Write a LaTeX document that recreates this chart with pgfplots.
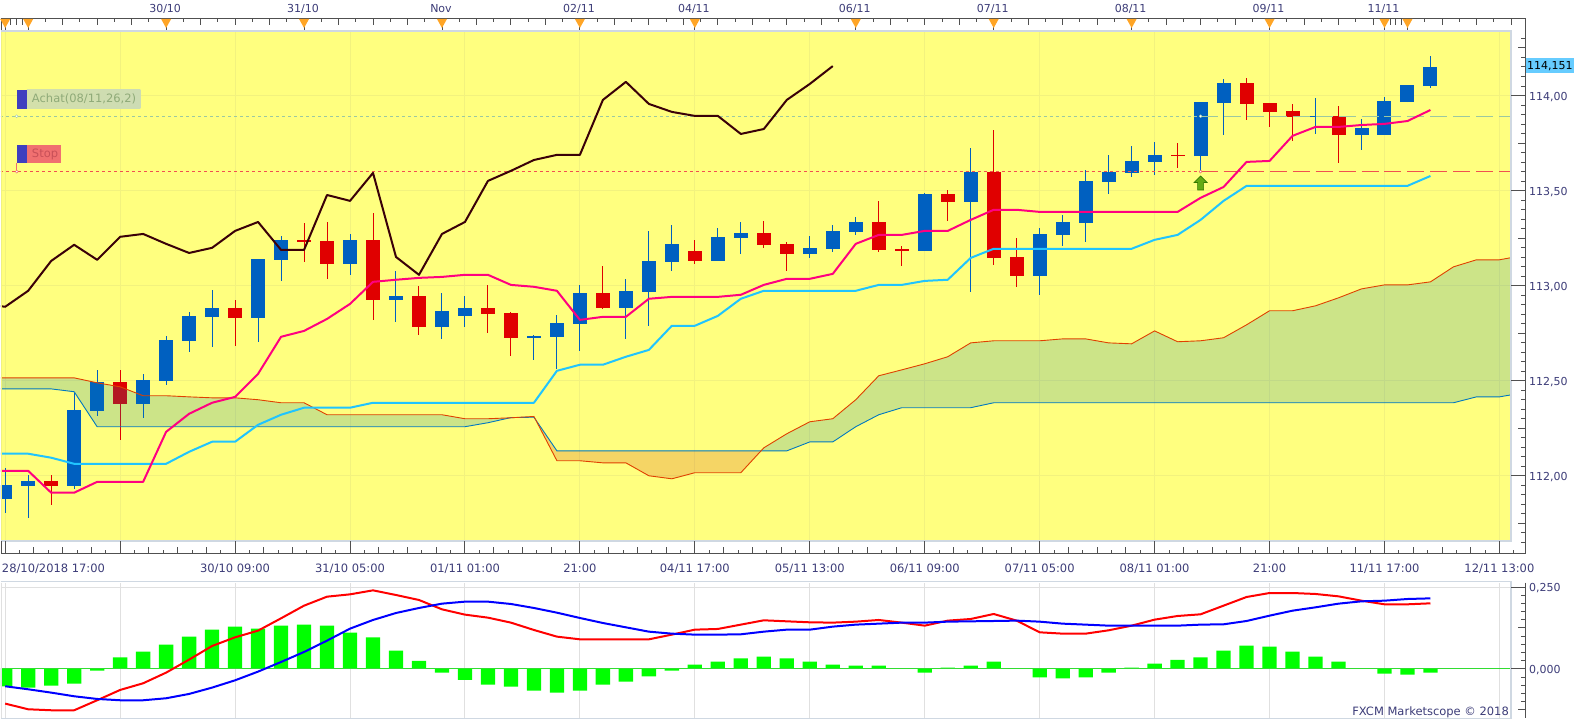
\documentclass[border=0pt]{standalone}
\usepackage{pgfplots}
\usepackage{pgfplotstable}
\usepackage{fontspec}
\setmainfont{DejaVu Sans}
\pgfplotsset{compat=1.18}
\definecolor{panelY}{HTML}{FFFF7F}
\definecolor{gridY}{HTML}{F2F27E}
\definecolor{cBlue}{HTML}{0060C0}
\definecolor{cRed}{HTML}{E00000}
\definecolor{cPink}{HTML}{FF0080}
\definecolor{cCyan}{HTML}{20C4FF}
\definecolor{cBlack}{HTML}{3A0008}
\definecolor{cA}{HTML}{E04000}
\definecolor{cB}{HTML}{0078C0}
\definecolor{txt}{HTML}{3C3C78}
\definecolor{rule}{HTML}{505050}
\definecolor{edge}{HTML}{CFD8E2}
\definecolor{tri}{HTML}{FFA526}
\definecolor{lastp}{HTML}{66CCFF}
\definecolor{buyL}{HTML}{9CC8A0}
\definecolor{stopL}{HTML}{F05050}
\definecolor{fillG}{HTML}{0078B0}
\definecolor{fillR}{HTML}{CD3000}
\definecolor{arrF}{HTML}{64AA14}
\definecolor{arrD}{HTML}{327800}
\definecolor{macdG}{HTML}{00FF00}
\definecolor{zeroG}{HTML}{32DD32}
\definecolor{macdR}{HTML}{FF0000}
\definecolor{macdB}{HTML}{0000FF}
\definecolor{tagB}{HTML}{3F3FBF}
\definecolor{tagG1}{HTML}{D4E0AA}
\definecolor{tagG2}{HTML}{CDDCB4}
\definecolor{tagR}{HTML}{F07070}
\definecolor{tagGT}{HTML}{8FAA78}
\definecolor{tagRT}{HTML}{C85058}
\definecolor{stem}{HTML}{F06E6E}
\pgfdeclareplotmark{uparr}{%
  \pgfpathmoveto{\pgfqpoint{0pt}{7pt}}\pgfpathlineto{\pgfqpoint{6.5pt}{0.5pt}}%
  \pgfpathlineto{\pgfqpoint{3pt}{0.5pt}}\pgfpathlineto{\pgfqpoint{3pt}{-7pt}}%
  \pgfpathlineto{\pgfqpoint{-3pt}{-7pt}}\pgfpathlineto{\pgfqpoint{-3pt}{0.5pt}}%
  \pgfpathlineto{\pgfqpoint{-6.5pt}{0.5pt}}\pgfpathclose\pgfusepathqfillstroke}
\newcommand{\fs}{\fontsize{11}{13}\selectfont}
\newcommand{\fb}{\fontsize{11.5}{13}\selectfont}

% open close high low
\pgfplotstableread{
i o c h l
0 111.879 111.953 112.042 111.806
1 111.947 111.974 112.005 111.779
3 111.947 112.347 112.436 111.932
4 112.342 112.494 112.557 112.315
6 112.379 112.505 112.536 112.305
7 112.500 112.715 112.736 112.478
8 112.710 112.841 112.862 112.652
9 112.836 112.883 112.978 112.678
11 112.831 113.141 113.141 112.705
12 113.136 113.241 113.262 113.025
15 113.115 113.241 113.272 113.057
17 112.925 112.946 113.078 112.810
19 112.783 112.868 112.962 112.720
20 112.841 112.883 112.946 112.783
23 112.726 112.736 112.741 112.610
24 112.731 112.804 112.847 112.563
25 112.799 112.962 113.004 112.657
27 112.883 112.973 113.036 112.720
28 112.967 113.130 113.288 112.789
29 113.125 113.220 113.320 113.078
31 113.130 113.257 113.304 113.130
32 113.251 113.278 113.335 113.167
35 113.167 113.199 113.262 113.146
36 113.194 113.288 113.320 113.178
37 113.283 113.335 113.362 113.267
40 113.183 113.483 113.488 113.183
42 113.441 113.598 113.725 112.967
45 113.052 113.272 113.304 112.952
46 113.267 113.335 113.372 113.209
47 113.330 113.551 113.609 113.230
48 113.546 113.598 113.688 113.483
49 113.593 113.656 113.735 113.572
50 113.651 113.688 113.756 113.583
52 113.682 113.966 113.966 113.604
53 113.961 114.066 114.087 113.793
57 113.888 113.893 113.987 113.798
59 113.793 113.830 113.877 113.714
60 113.793 113.972 113.993 113.793
61 113.966 114.056 114.056 113.966
62 114.050 114.151 114.208 114.040
}\upc
\pgfplotstableread{
i o c h l
2 111.974 111.947 112.005 111.848
5 112.494 112.379 112.557 112.189
10 112.883 112.831 112.925 112.684
13 113.241 113.230 113.330 113.125
14 113.236 113.115 113.335 113.036
16 113.241 112.925 113.383 112.820
18 112.946 112.783 112.999 112.741
21 112.883 112.852 113.004 112.752
22 112.857 112.726 112.862 112.631
26 112.962 112.883 113.104 112.878
30 113.183 113.130 113.241 113.115
33 113.278 113.215 113.341 113.199
34 113.220 113.167 113.230 113.078
38 113.335 113.188 113.446 113.178
39 113.194 113.183 113.209 113.104
41 113.483 113.441 113.504 113.341
43 113.598 113.146 113.819 113.109
44 113.151 113.052 113.251 112.994
51 113.688 113.682 113.751 113.619
54 114.066 113.956 114.093 113.872
55 113.961 113.914 113.961 113.835
56 113.919 113.888 113.956 113.761
58 113.893 113.793 113.945 113.646
}\downc
\pgfplotstableread{
i y
-1 112.904
0 112.889
1 112.973
2 113.130
3 113.215
4 113.136
5 113.257
6 113.272
7 113.220
8 113.172
9 113.199
10 113.288
11 113.335
12 113.188
13 113.188
14 113.477
15 113.446
16 113.593
17 113.151
18 113.057
19 113.272
20 113.335
21 113.551
22 113.604
23 113.661
24 113.688
25 113.688
26 113.977
27 114.072
28 113.956
29 113.914
30 113.893
31 113.893
32 113.798
33 113.824
34 113.977
35 114.061
36 114.155
}\chikou
\pgfplotstableread{
i y
-1 112.026
0 112.026
1 112.026
2 111.911
3 111.911
4 111.968
5 111.968
6 111.968
7 112.231
8 112.326
9 112.384
10 112.415
11 112.536
12 112.731
13 112.762
14 112.825
15 112.904
16 113.020
17 113.031
18 113.041
19 113.046
20 113.057
21 113.057
22 113.004
23 112.994
24 112.973
25 112.820
26 112.836
27 112.836
28 112.931
29 112.941
30 112.941
31 112.941
32 112.952
33 113.004
34 113.036
35 113.036
36 113.062
37 113.220
38 113.267
39 113.267
40 113.288
41 113.288
42 113.346
43 113.399
44 113.399
45 113.388
46 113.388
47 113.388
48 113.388
49 113.388
50 113.388
51 113.388
52 113.462
53 113.519
54 113.651
55 113.656
56 113.788
57 113.835
58 113.835
59 113.845
60 113.851
61 113.866
62 113.924
}\tenkan
\pgfplotstableread{
i y
-1 112.116
0 112.116
1 112.116
2 112.095
3 112.063
4 112.063
5 112.063
6 112.063
7 112.063
8 112.126
9 112.179
10 112.179
11 112.268
12 112.321
13 112.358
14 112.358
15 112.358
16 112.384
17 112.384
18 112.384
19 112.384
20 112.384
21 112.384
22 112.384
23 112.384
24 112.552
25 112.584
26 112.584
27 112.626
28 112.662
29 112.789
30 112.789
31 112.841
32 112.931
33 112.973
34 112.973
35 112.973
36 112.973
37 112.973
38 113.004
39 113.004
40 113.025
41 113.031
42 113.146
43 113.194
44 113.194
45 113.194
46 113.194
47 113.194
48 113.194
49 113.194
50 113.241
51 113.267
52 113.346
53 113.446
54 113.525
55 113.525
56 113.525
57 113.525
58 113.525
59 113.525
60 113.525
61 113.525
62 113.577
}\kijun
\pgfplotstableread{
i y
-1 112.515
0 112.515
1 112.515
2 112.515
3 112.515
4 112.489
5 112.468
6 112.421
7 112.421
8 112.415
9 112.410
10 112.410
11 112.400
12 112.384
13 112.384
14 112.321
15 112.321
16 112.321
17 112.321
18 112.321
19 112.321
20 112.300
21 112.300
22 112.305
23 112.312
24 112.079
25 112.079
26 112.068
27 112.068
28 112.000
29 111.984
30 112.016
31 112.016
32 112.016
33 112.147
34 112.221
35 112.284
36 112.300
37 112.400
38 112.526
39 112.557
40 112.589
41 112.626
42 112.699
43 112.710
44 112.710
45 112.710
46 112.720
47 112.720
48 112.699
49 112.694
50 112.762
51 112.705
52 112.710
53 112.726
54 112.794
55 112.868
56 112.868
57 112.894
58 112.936
59 112.983
60 113.004
61 113.004
62 113.020
63 113.099
64 113.136
65 113.136
66 113.158
}\senkouA
\pgfplotstableread{
i y
-1 112.457
0 112.457
1 112.457
2 112.457
3 112.442
4 112.258
5 112.258
6 112.258
7 112.258
8 112.258
9 112.258
10 112.258
11 112.258
12 112.258
13 112.258
14 112.258
15 112.258
16 112.258
17 112.258
18 112.258
19 112.258
20 112.258
21 112.279
22 112.306
23 112.308
24 112.131
25 112.131
26 112.131
27 112.131
28 112.131
29 112.131
30 112.131
31 112.131
32 112.131
33 112.131
34 112.131
35 112.178
36 112.178
37 112.258
38 112.321
39 112.358
40 112.358
41 112.358
42 112.358
43 112.384
44 112.384
45 112.384
46 112.384
47 112.384
48 112.384
49 112.384
50 112.384
51 112.384
52 112.384
53 112.384
54 112.384
55 112.384
56 112.384
57 112.384
58 112.384
59 112.384
60 112.384
61 112.384
62 112.384
63 112.384
64 112.415
65 112.415
66 112.436
}\senkouB
% i histogram macd(red) signal(blue)
\pgfplotstableread{
i h r b
0 -0.053 -0.1057 -0.0528
1 -0.057 -0.1230 -0.0620
2 -0.051 -0.1260 -0.0722
3 -0.045 -0.1260 -0.0833
4 -0.005 -0.0955 -0.0915
5 0.035 -0.0640 -0.0955
6 0.053 -0.0437 -0.0955
7 0.074 -0.0112 -0.0894
8 0.099 0.0285 -0.0762
9 0.120 0.0701 -0.0569
10 0.129 0.0965 -0.0346
11 0.123 0.1169 -0.0081
12 0.132 0.1545 0.0213
13 0.135 0.1931 0.0518
14 0.132 0.2205 0.0864
15 0.111 0.2276 0.1230
16 0.096 0.2398 0.1494
17 0.056 0.2256 0.1707
18 0.025 0.2104 0.1860
19 -0.011 0.1819 0.1992
20 -0.033 0.1657 0.2053
21 -0.048 0.1565 0.2053
22 -0.054 0.1413 0.1982
23 -0.066 0.1189 0.1860
24 -0.072 0.0986 0.1717
25 -0.066 0.0904 0.1555
26 -0.048 0.0904 0.1402
27 -0.039 0.0904 0.1270
28 -0.023 0.0904 0.1138
29 -0.005 0.1047 0.1077
30 0.013 0.1199 0.1047
31 0.022 0.1220 0.1047
32 0.032 0.1352 0.1057
33 0.038 0.1484 0.1138
34 0.032 0.1453 0.1199
35 0.022 0.1423 0.1199
36 0.013 0.1413 0.1291
37 0.010 0.1443 0.1352
38 0.010 0.1494 0.1382
39 0.000 0.1413 0.1413
40 -0.011 0.1321 0.1413
41 0.004 0.1474 0.1443
42 0.010 0.1524 0.1453
43 0.022 0.1677 0.1463
44 0.000 0.1474 0.1474
45 -0.026 0.1118 0.1443
46 -0.029 0.1077 0.1382
47 -0.026 0.1077 0.1352
48 -0.011 0.1179 0.1321
49 0.004 0.1321 0.1321
50 0.016 0.1504 0.1321
51 0.028 0.1616 0.1321
52 0.035 0.1667 0.1352
53 0.056 0.1931 0.1362
54 0.071 0.2195 0.1463
55 0.068 0.2317 0.1626
56 0.053 0.2317 0.1778
57 0.038 0.2287 0.1880
58 0.022 0.2215 0.1992
59 0.000 0.2083 0.2063
60 -0.014 0.1972 0.2083
61 -0.017 0.1972 0.2134
62 -0.011 0.2002 0.2154
}\macd

\begin{document}
\begin{tikzpicture}
\fill[white] (0,0) rectangle (1583pt,720pt);
\begin{axis}[
  at={(0pt,179pt)}, anchor=south west, scale only axis,
  width=1510.5pt, height=509pt,
  xmin=-0.1913, xmax=65.4826, ymin=111.6583, ymax=114.3344,
  axis background/.style={fill=panelY},
  axis line style={draw=none},
  major tick length=0pt,
  xtick={5,10,...,65},
  xticklabels={,30/10 09:00,31/10 05:00,01/11 01:00,21:00,04/11 17:00,05/11 13:00,06/11 09:00,07/11 05:00,08/11 01:00,21:00,11/11 17:00,12/11 13:00},
  extra x ticks={0},
  extra x tick labels={28/10/2018 17:00},
  extra x tick style={xticklabel style={anchor=west,inner xsep=0pt,xshift=-3.4pt}},
  xticklabel style={font=\fb,text=txt,anchor=center,yshift=-28pt},
  ytick={112,112.5,113,113.5,114},
  yticklabel pos=right,
  yticklabel style={font=\fs,text=txt,anchor=west,xshift=15pt,yshift=-1.5pt,
    /pgf/number format/.cd,fixed,fixed zerofill,precision=2,use comma,assume math mode=true},
  grid=major,
  major grid style={draw=gridY,line width=1pt},
]
% wicks and bodies
\addplot[draw=none,mark=none,forget plot,error bars/.cd,y dir=plus,y explicit,error mark=none,
  error bar style={draw=cBlue,solid,line width=1pt}]
  table[x=i,y=l,y error expr={\thisrow{h}-\thisrow{l}}] {\upc};
\addplot[draw=none,mark=none,forget plot,error bars/.cd,y dir=plus,y explicit,error mark=none,
  error bar style={draw=cRed,solid,line width=1pt}]
  table[x=i,y=l,y error expr={\thisrow{h}-\thisrow{l}}] {\downc};
\addplot[draw=none,mark=none,forget plot,error bars/.cd,y dir=plus,y explicit,error mark=none,
  error bar style={draw=cBlue,solid,line width=14pt}]
  table[x=i,y=o,y error expr={\thisrow{c}-\thisrow{o}}] {\upc};
\addplot[draw=none,mark=none,forget plot,error bars/.cd,y dir=plus,y explicit,error mark=none,
  error bar style={draw=cRed,solid,line width=14pt}]
  table[x=i,y=c,y error expr={\thisrow{o}-\thisrow{c}}] {\downc};
% cloud
\addplot[fill=fillG,fill opacity=0.2,draw=none,forget plot] coordinates {
 (-1,112.515)(3,112.515)(4,112.489)(5,112.468)(6,112.421)(7,112.421)(8,112.415)(9,112.410)(10,112.410)(11,112.400)(12,112.384)(13,112.384)(14,112.321)(19,112.321)(20,112.300)(21,112.300)(22,112.305)(23,112.312)
 (23,112.308)(22,112.306)(21,112.279)(20,112.258)(4,112.258)(3,112.442)(2,112.457)(-1,112.457)} --cycle;
\addplot[fill=fillR,fill opacity=0.2,draw=none,forget plot] coordinates {
 (23,112.312)(24,112.079)(25,112.079)(26,112.068)(27,112.068)(28,112.000)(29,111.984)(30,112.016)(32,112.016)(32.88,112.131)
 (24,112.131)(23,112.308)} --cycle;
\addplot[fill=fillG,fill opacity=0.2,draw=none,forget plot] coordinates {
 (32.88,112.131)(33,112.147)(34,112.221)(35,112.284)(36,112.300)(37,112.400)(38,112.526)(39,112.557)(40,112.589)(41,112.626)(42,112.699)(43,112.710)(45,112.710)(46,112.720)(47,112.720)(48,112.699)(49,112.694)(50,112.762)(51,112.705)(52,112.710)(53,112.726)(54,112.794)(55,112.868)(56,112.868)(57,112.894)(58,112.936)(59,112.983)(60,113.004)(61,113.004)(62,113.020)(63,113.099)(64,113.136)(65,113.136)(66,113.158)
 (66,112.436)(65,112.415)(64,112.415)(63,112.384)(43,112.384)(42,112.358)(39,112.358)(38,112.321)(37,112.258)(36,112.178)(35,112.178)(34,112.131)} --cycle;
\addplot[cB,line width=0.9pt,forget plot] table[x=i,y=y] {\senkouB};
\addplot[cA,line width=0.9pt,forget plot] table[x=i,y=y] {\senkouA};
% order levels
\addplot[draw=buyL,line width=0.9pt,dash pattern=on 3pt off 3pt,forget plot]
  coordinates {(-1,113.891)(52,113.891)};
\addplot[draw=buyL,line width=0.9pt,dash pattern=on 17pt off 6pt,forget plot]
  coordinates {(52,113.891)(66,113.891)};
\addplot[draw=stopL,line width=0.9pt,dash pattern=on 3pt off 3pt,forget plot]
  coordinates {(-1,113.6)(52,113.6)};
\addplot[draw=stopL,line width=0.9pt,dash pattern=on 17pt off 6pt,forget plot]
  coordinates {(52,113.6)(66,113.6)};
% ichimoku lines
\addplot[cCyan,line width=2pt,line join=round,forget plot] table[x=i,y=y] {\kijun};
\addplot[cPink,line width=2pt,line join=round,forget plot] table[x=i,y=y] {\tenkan};
\addplot[cBlack,line width=2pt,line join=round,forget plot] table[x=i,y=y] {\chikou};
% markers
\addplot[only marks,mark=*,mark size=1.5pt,mark options={fill=white,draw=buyL},forget plot]
  coordinates {(0.5,113.891)(52,113.891)};
\addplot[only marks,mark=*,mark size=1.5pt,mark options={fill=white,draw=stopL},forget plot]
  coordinates {(0.5,113.6)(52,113.6)};
\addplot[only marks,mark=uparr,mark options={fill=arrF,draw=arrD,line width=0.6pt},forget plot]
  coordinates {(52,113.54)};
\end{axis}

\begin{axis}[
  at={(0pt,2pt)}, anchor=south west, scale only axis,
  width=1510.5pt, height=135pt,
  xmin=-0.1913, xmax=65.4826, ymin=-0.1485, ymax=0.2631,
  axis line style={draw=none},
  major tick length=0pt,
  xtick={0,5,...,65}, xticklabels={},
  ytick={0,0.25},
  yticklabel pos=right,
  yticklabel style={font=\fs,text=txt,anchor=west,xshift=15pt,yshift=-1.5pt,
    /pgf/number format/.cd,fixed,fixed zerofill,precision=3,use comma,assume math mode=true},
  grid=major,
  major grid style={draw=black!12,line width=1pt},
]
\addplot[ybar,bar width=14.3pt,bar shift=0pt,fill=macdG,draw=none,forget plot]
  table[x=i,y=h] {\macd};
\addplot[draw=zeroG,line width=1pt,forget plot] coordinates {(-1,0)(66,0)};
\addplot[draw=macdR,line width=2pt,line join=round,forget plot] table[x=i,y=r] {\macd};
\addplot[draw=macdB,line width=2pt,line join=round,forget plot] table[x=i,y=b] {\macd};
\end{axis}

% frame, rulers and captions, in pixels of the picture
\begin{scope}[x=1pt,y=-1pt,shift={(0pt,720pt)}]
  % panel borders
  \draw[edge,line width=1.6pt] (0,31.2) -- (1511,31.2) -- (1511,541) -- (0,541);
  \draw[edge,line width=1.3pt] (0,582) -- (1511,582) -- (1511,718.6) -- (0,718.6);
  \draw[gridY,line width=1pt] (1,32) -- (1,540);
  \draw[black!12,line width=1pt] (1,583) -- (1,718);
  % top ruler
  \draw[rule,line width=1pt] (0,18.3) -- (1525.3,18.3) -- (1525.3,554) -- (0,554);
  \draw[rule,line width=1pt] (1,18.3) -- (1,30.5);
  \foreach \n in {0,...,86}{
    \pgfmathsetmacro{\xx}{27.4+17.25*\n}
    \pgfmathtruncatemacro{\ev}{mod(\n,2)}
    \ifnum\ev=0 \draw[rule,line width=0.9pt] (\xx,18.3) -- (\xx,25);
    \else \draw[rule,line width=0.9pt] (\xx,18.3) -- (\xx,22); \fi
  }
  \foreach \xx in {10.1,15.9,21.6,1390.1,1395.8,1401.6}
    \draw[rule,line width=0.9pt] (\xx,18.3) -- (\xx,25);
  \foreach \i in {0,1,7,13,19,25,30,37,43,49,55,60,61}{
    \pgfmathsetmacro{\xx}{4.4+23*\i}
    \draw[rule,line width=0.9pt] (\xx,18.3) -- (\xx,30.5);
    \fill[tri] (\xx-5,19) -- (\xx+5,19) -- (\xx,28) -- cycle;
  }
  \foreach \i/\t in {7/30\slash 10,13/31\slash 10,19/Nov,25/02\slash 11,30/04\slash 11,37/06\slash 11,43/07\slash 11,49/08\slash 11,55/09\slash 11,60/11\slash 11}{
    \pgfmathsetmacro{\xx}{4.4+23*\i-1}
    \node[font=\fs,text=txt,inner sep=0pt] at (\xx,9) {\t};
  }
  % bottom ruler
  \draw[rule,line width=1pt] (1,541.5) -- (1,554);
  \foreach \k in {0,...,105}{
    \pgfmathsetmacro{\xx}{4.4+14.375*\k}
    \pgfmathtruncatemacro{\me}{mod(\k,8)}
    \pgfmathtruncatemacro{\ev}{mod(\k,2)}
    \ifnum\me=0 \draw[rule,line width=1pt] (\xx,541.5) -- (\xx,554);
    \else\ifnum\ev=0 \draw[rule,line width=0.9pt] (\xx,547.3) -- (\xx,554);
    \else \draw[rule,line width=0.9pt] (\xx,550.7) -- (\xx,554); \fi\fi
  }
  % price scale
  \foreach \k in {0,...,53}{
    \pgfmathsetmacro{\yy}{38.5+9.51*\k}
    \pgfmathtruncatemacro{\me}{mod(\k,10)}
    \ifnum\me=6 \draw[rule,line width=1pt] (1511,\yy) -- (1525.3,\yy);
    \else\ifnum\me=1 \draw[rule,line width=1pt] (1518,\yy) -- (1525.3,\yy);
    \else \draw[rule,line width=1pt] (1521,\yy) -- (1525.3,\yy); \fi\fi
  }
  % oscillator scale
  \draw[rule,line width=1pt] (1525.3,583) -- (1525.3,718);
  \foreach \k in {0,...,15}{
    \pgfmathsetmacro{\yy}{587.3+8.2*\k}
    \pgfmathtruncatemacro{\me}{mod(\k,10)}
    \pgfmathtruncatemacro{\mf}{mod(\k,5)}
    \ifnum\me=0 \draw[rule,line width=1pt] (1511,\yy) -- (1525.3,\yy);
    \else\ifnum\mf=0 \draw[rule,line width=1pt] (1518,\yy) -- (1525.3,\yy);
    \else \draw[rule,line width=1pt] (1521,\yy) -- (1525.3,\yy); \fi\fi
  }
  % last price
  \fill[lastp] (1525.8,58) rectangle (1574,73.5);
  \node[font=\fs,text=black,inner sep=0pt] at (1549.9,66) {114,151};
  % order tags
  \shade[left color=tagG1,right color=tagG2] (26,90) rectangle (139.6,108.7);
  \fill[tagB] (16,90) rectangle (26,108.7);
  \node[font=\fb,text=tagGT,anchor=west,inner sep=0pt] at (31,99.3) {Achat(08/11,26,2)};
  \fill[tagR] (26,145) rectangle (60.5,163);
  \fill[tagB] (16,145) rectangle (26,163);
  \node[font=\fb,text=tagRT,anchor=west,inner sep=0pt] at (31,155) {Stop};
  \draw[stem,line width=0.8pt] (16,163) -- (16,170);
  % credit
  \node[font=\fb,text=txt,anchor=east,inner sep=0pt] at (1509,713) {FXCM Marketscope © 2018};
\end{scope}
\end{tikzpicture}
\end{document}
